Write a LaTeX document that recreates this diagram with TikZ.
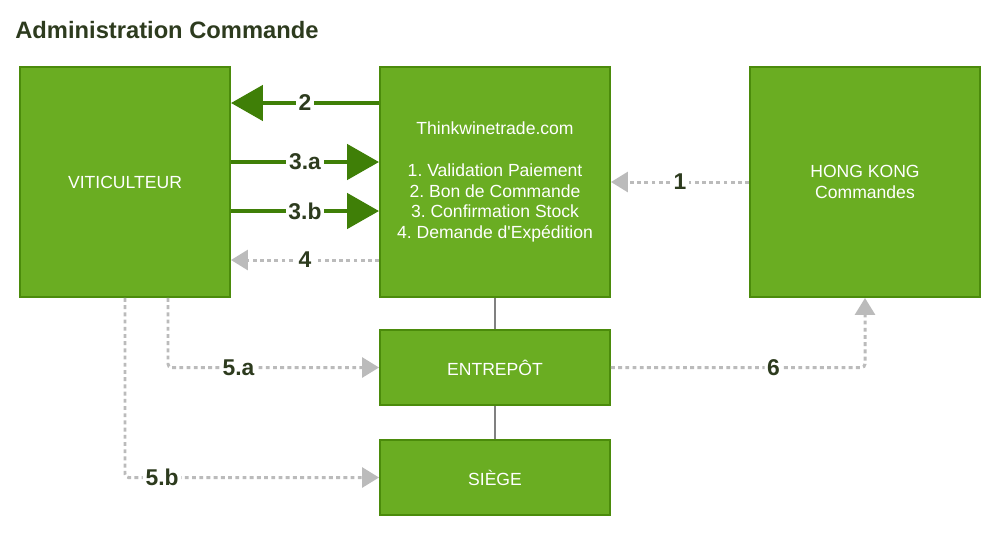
\documentclass[tikz,border=0pt]{standalone}
\usepackage{fontspec}
\setmainfont{Liberation Sans}
\usetikzlibrary{arrows.meta, positioning, calc}
\definecolor{LeafGreen}{HTML}{6AAD22}
\definecolor{LeafBorder}{HTML}{4B8B0B}
\definecolor{DeepGreen}{HTML}{3F7F07}
\definecolor{DotGray}{HTML}{BBBBBB}
\definecolor{Olive}{HTML}{2D3B1E}
\tikzset{
    stepbox/.style={draw=LeafBorder, line width=1.1pt, fill=LeafGreen, text=white,
                    font=\fontsize{10}{11.9}\selectfont\frenchspacing, align=center,
                    minimum width=4.6cm, minimum height=4.6cm, inner sep=0pt},
    flatbox/.style={stepbox, minimum height=1.5cm},
    bigflow/.style={DeepGreen, line width=2.8pt, -{Triangle[length=0.64cm, width=0.7cm]}},
    dotflow/.style={DotGray, line width=1.7pt, dash pattern=on 2.2pt off 1.9pt,
                    -{Triangle[length=0.34cm, width=0.4cm]}},
    link/.style={gray, line width=0.7pt},
    tag/.style={fill=white, text=Olive, font=\fontsize{13}{15}\selectfont\bfseries, inner sep=1.5pt}
}

\begin{document}
\begin{tikzpicture}
    \useasboundingbox (0,0) rectangle (20,-10.7);

    % Title
    \node[anchor=west, inner sep=0pt, text=Olive, font=\fontsize{13.5}{16}\selectfont\bfseries]
        (title) at (0.3,-0.6) {Administration Commande};

    % Boxes
    \node[stepbox, minimum width=4.2cm] (vit) at (2.5,-3.64) {VITICULTEUR};
    \node[stepbox] (think) at (9.9,-3.64) {Thinkwinetrade.com\\[11.9pt]
        1. Validation Paiement\\ 2. Bon de Commande\\ 3. Confirmation Stock\\
        4. Demande d\textquotesingle Expédition};
    \node[stepbox] (hk) at (17.3,-3.64) {HONG KONG\\ Commandes};
    \node[flatbox] (entrepot) at (9.9,-7.35) {ENTREPÔT};
    \node[flatbox] (siege) at (9.9,-9.55) {SIÈGE};

    % Plain links
    \draw[link] (think.south) -- (entrepot.north);
    \draw[link] (entrepot.south) -- (siege.north);

    % Flows between viticulteur and platform
    \draw[bigflow] ([yshift=1.58cm]think.west) -- node[tag] {2} ([yshift=1.58cm]vit.east);
    \draw[bigflow] ([yshift=0.4cm]vit.east) -- node[tag] {3.a} ([yshift=0.4cm]think.west);
    \draw[bigflow] ([yshift=-0.58cm]vit.east) -- node[tag] {3.b} ([yshift=-0.58cm]think.west);
    \draw[dotflow] ([yshift=-1.56cm]think.west) -- node[tag] {4} ([yshift=-1.56cm]vit.east);

    % Orders and shipping
    \draw[dotflow] (hk.west) -- node[tag] {1} (think.east);
    \draw[dotflow, rounded corners=2pt] ([xshift=0.86cm]vit.south) |- node[tag, pos=0.667] {5.a} (entrepot.west);
    \draw[dotflow, rounded corners=2pt] (vit.south) |- node[tag, pos=0.573] {5.b} (siege.west);
    \draw[dotflow, rounded corners=2pt] (entrepot.east) -| node[tag, pos=0.32] {6} (hk.south);
\end{tikzpicture}
\end{document}
